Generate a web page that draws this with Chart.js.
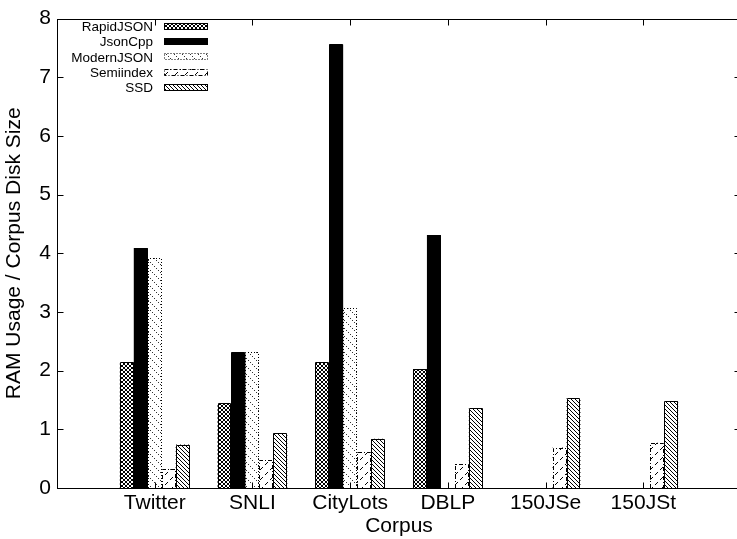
<!DOCTYPE html>
<html>
<head>
<meta charset="utf-8">
<script src="https://cdn.jsdelivr.net/npm/chart.js@4"></script>
<style>
  html, body { margin: 0; padding: 0; background: #fff; overflow: hidden; }
  #wrap { width: 737px; height: 539px; overflow: hidden; }
</style>
</head>
<body>
<div id="wrap"><canvas id="memChart" width="744" height="539"></canvas></div>
<script>
const corpora = ["Twitter", "SNLI", "CityLots", "DBLP", "150JSe", "150JSt"];
const rapidjson = [2.14, 1.45, 2.14, 2.03, null, null];
const jsoncpp = [4.09, 2.31, 7.56, 4.31, null, null];
const modernjson = [3.92, 2.32, 3.06, null, null, null];
const semiindex = [0.32, 0.47, 0.61, 0.41, 0.69, 0.77];
const ssd = [0.74, 0.93, 0.84, 1.36, 1.53, 1.48];
const yTicks = [0, 1, 2, 3, 4, 5, 6, 7, 8];

const FONT = "'Liberation Sans', Arial, sans-serif";

// gnuplot leaves one empty slot on each side
const labels = [""].concat(corpora, [""]);
const pad = arr => [null].concat(arr, [null]);

function makePattern(size, draw) {
  const c = document.createElement("canvas");
  c.width = size;
  c.height = size;
  const g = c.getContext("2d");
  g.fillStyle = "#fff";
  g.fillRect(0, 0, size, size);
  draw(g, size);
  return document.getElementById("memChart").getContext("2d").createPattern(c, "repeat");
}

const crossHatch = makePattern(4, (g, s) => {
  g.strokeStyle = "#000";
  g.lineWidth = 1;
  g.beginPath();
  g.moveTo(0, 0); g.lineTo(s, s);
  g.moveTo(0, s); g.lineTo(s, 0);
  g.stroke();
});

const dottedBack = makePattern(8, (g, s) => {
  g.fillStyle = "#333";
  for (let i = 0; i < s; i += 2) g.fillRect(i, i, 1, 1);
});

const dashedFwd = makePattern(10, (g, s) => {
  g.fillStyle = "#000";
  for (let i = 0; i < s; i++) {
    if (i % 5 < 3) g.fillRect(i, s - 1 - i, 1, 1);
  }
});

const denseBack = makePattern(4, (g, s) => {
  g.strokeStyle = "#000";
  g.lineWidth = 1;
  g.beginPath();
  g.moveTo(-1, -1); g.lineTo(s + 1, s + 1);
  g.stroke();
});

// bar outlines (with dashes), drawn like gnuplot does
const outlines = {
  id: "outlines",
  afterDatasetsDraw(chart) {
    const ctx = chart.ctx;
    chart.data.datasets.forEach((ds, i) => {
      if (!ds.outline) return;
      const meta = chart.getDatasetMeta(i);
      ctx.save();
      ctx.strokeStyle = ds.outline;
      ctx.lineWidth = 1;
      ctx.setLineDash(ds.dash);
      meta.data.forEach((bar, j) => {
        if (ds.data[j] == null) return;
        const p = bar.getProps(["x", "y", "base", "width"], true);
        const x0 = Math.round(p.x - p.width / 2) + 0.5;
        const x1 = Math.round(p.x + p.width / 2) - 0.5;
        const y0 = Math.round(p.y) + 0.5;
        const y1 = Math.round(p.base);
        ctx.beginPath();
        ctx.moveTo(x0, y1); ctx.lineTo(x0, y0); ctx.lineTo(x1, y0); ctx.lineTo(x1, y1);
        ctx.stroke();
      });
      ctx.restore();
    });
  }
};

// border box, inward ticks on all sides, and the legend
const frame = {
  id: "frame",
  afterDraw(chart) {
    const ctx = chart.ctx;
    const a = chart.chartArea;
    const xs = chart.scales.x, ys = chart.scales.y;
    ctx.save();
    ctx.strokeStyle = "#000";
    ctx.lineWidth = 1;
    const L = Math.round(a.left) + 0.5, R = Math.round(a.right) - 0.5;
    const T = Math.round(a.top) + 0.5, B = Math.round(a.bottom) + 0.5;
    ctx.strokeRect(L, T, R - L, B - T);
    ctx.beginPath();
    yTicks.forEach(v => {
      const y = Math.round(ys.getPixelForValue(v)) + 0.5;
      ctx.moveTo(L, y); ctx.lineTo(L + 6, y);
      ctx.moveTo(R, y); ctx.lineTo(R - 6, y);
    });
    corpora.forEach((c, i) => {
      const x = Math.round(xs.getPixelForValue(i + 1)) + 0.5;
      ctx.moveTo(x, B); ctx.lineTo(x, B - 6);
      ctx.moveTo(x, T); ctx.lineTo(x, T + 6);
    });
    ctx.stroke();

    ctx.font = "13.5px " + FONT;
    ctx.textAlign = "right";
    ctx.textBaseline = "middle";
    ctx.fillStyle = "#000";
    chart.data.datasets.forEach((ds, i) => {
      const cy = 26.5 + i * 15.2;
      ctx.fillText(ds.label, 153, cy + 1);
      const sx = 164, sw = 44, sh = 7;
      const sy = Math.round(cy - sh / 2);
      ctx.fillStyle = ds.backgroundColor;
      ctx.fillRect(sx, sy, sw, sh);
      ctx.strokeStyle = "#000";
      ctx.setLineDash(ds.dash || []);
      ctx.strokeRect(sx + 0.5, sy + 0.5, sw - 1, sh - 1);
      ctx.setLineDash([]);
      ctx.fillStyle = "#000";
    });
    ctx.restore();
  }
};

new Chart(document.getElementById("memChart"), {
  type: "bar",
  data: {
    labels: labels,
    datasets: [
      { label: "RapidJSON", data: pad(rapidjson), backgroundColor: crossHatch, outline: "#000", dash: [] },
      { label: "JsonCpp", data: pad(jsoncpp), backgroundColor: "#000", outline: "#000", dash: [] },
      { label: "ModernJSON", data: pad(modernjson), backgroundColor: dottedBack, outline: "#000", dash: [1, 2] },
      { label: "Semiindex", data: pad(semiindex), backgroundColor: dashedFwd, outline: "#000", dash: [4, 2, 1, 2] },
      { label: "SSD", data: pad(ssd), backgroundColor: denseBack, outline: "#000", dash: [] },
    ],
  },
  options: {
    responsive: false,
    animation: false,
    devicePixelRatio: 1,
    layout: { padding: { top: 13, right: 1, left: 0, bottom: 0 } },
    datasets: { bar: { categoryPercentage: 0.714, barPercentage: 1, borderWidth: 0 } },
    plugins: { legend: { display: false }, tooltip: { enabled: false } },
    scales: {
      x: {
        offset: false,
        grid: { display: false, drawTicks: false },
        border: { display: false },
        ticks: { color: "#000", font: { family: FONT, size: 21 }, padding: 3, maxRotation: 0, autoSkip: false },
        title: { display: true, text: "Corpus", color: "#000", font: { family: FONT, size: 21, lineHeight: 1 }, padding: { top: 0, bottom: 2 } },
        afterFit(scale) { scale.height = 51; },
      },
      y: {
        min: 0,
        max: 8,
        grid: { display: false, drawTicks: false },
        border: { display: false },
        ticks: { stepSize: 1, color: "#000", font: { family: FONT, size: 21 }, padding: 6 },
        title: { display: true, text: "RAM Usage / Corpus Disk Size", color: "#000", font: { family: FONT, size: 21, lineHeight: 1 }, padding: { top: 4, bottom: 0 } },
        afterFit(scale) { scale.width = 57; },
      },
    },
  },
  plugins: [outlines, frame],
});
</script>
</body>
</html>
